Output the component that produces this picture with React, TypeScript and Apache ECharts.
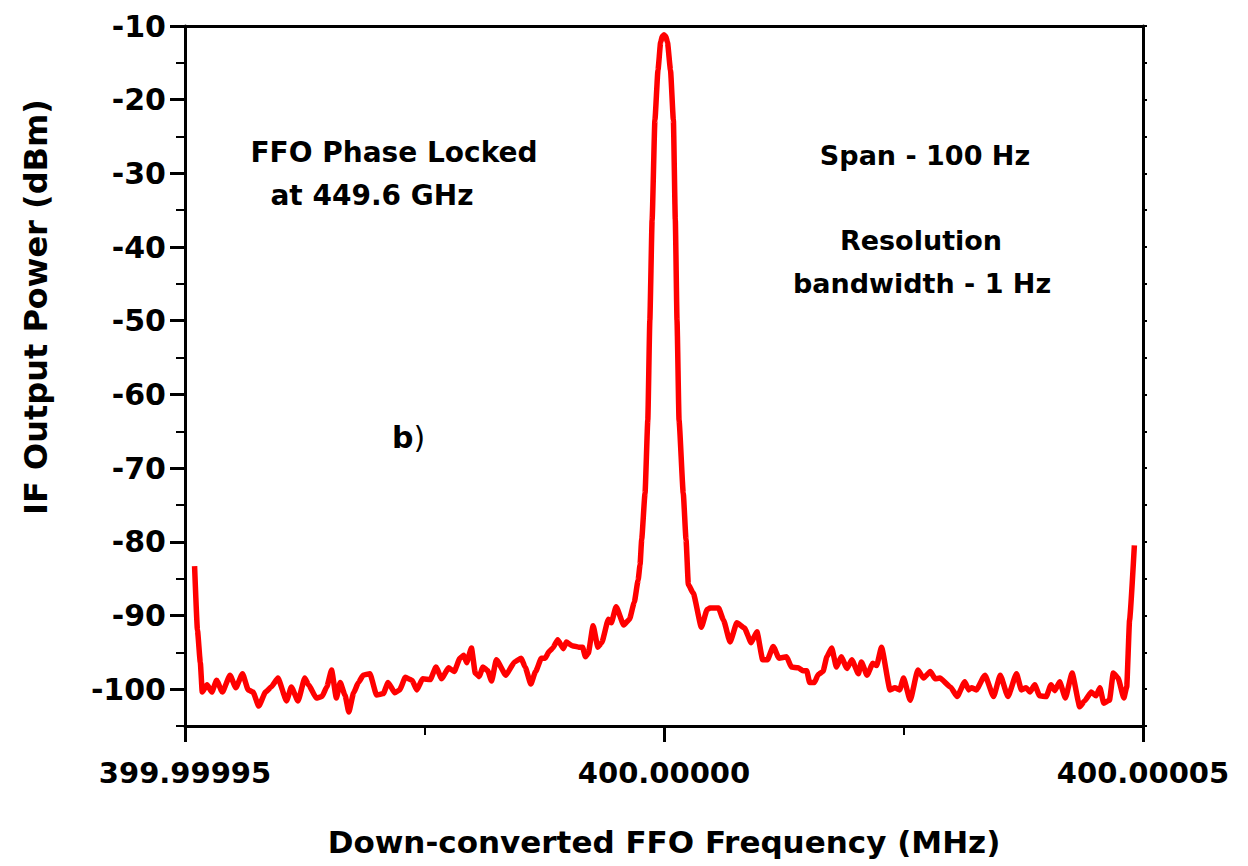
import React, { useEffect, useRef } from "react";
import * as echarts from "echarts";

// Frequency offset from 400.00000 MHz, in Hz
const freqOffsetHz: number[] = [
  -49.0, -48.7, -48.4, -48.2, -47.7, -47.2, -46.7, -46.1, -45.3, -44.7, -44.0, -43.4, -42.9, -42.3,
  -41.6, -41.0, -40.3, -39.4, -38.9, -38.2, -37.5, -37.1, -36.3, -35.7, -35.2, -34.7, -34.2, -33.8,
  -33.3, -32.9, -32.4, -31.9, -31.4, -30.7, -30.0, -29.3, -28.8, -28.1, -27.6, -27.0, -26.3, -25.8,
  -25.2, -24.4, -23.8, -23.2, -22.5, -21.9, -21.3, -20.9, -20.6, -20.1, -19.7, -19.3, -18.9, -18.4,
  -18.0, -17.5, -16.5, -15.6, -14.9, -14.5, -13.9, -13.4, -12.8, -12.4, -12.0, -11.6, -11.1, -10.5,
  -10.2, -9.6, -8.9, -8.5, -8.2, -7.9, -7.4, -6.9, -6.5, -5.8, -5.5, -5.0, -4.2, -3.6, -3.1, -2.7,
  -2.5, -2.33, -1.98, -1.69, -1.48, -1.24, -0.95, -0.63, -0.35, -0.18, 0.0, 0.18, 0.36, 0.68, 0.98, 1.18,
  1.36, 1.57, 2.01, 2.3, 2.54, 3.06, 3.9, 4.5, 4.8, 5.7, 6.2, 6.9, 7.6, 8.4, 9.1, 9.7, 10.3, 10.8, 11.4,
  12.0, 12.8, 13.3, 14.0, 14.5, 14.9, 15.2, 15.7, 16.1, 16.6, 17.0, 17.5, 18.0, 18.5, 19.1, 19.6,
  20.3, 20.6, 21.2, 21.8, 22.2, 22.7, 23.6, 24.1, 24.6, 25.0, 25.7, 26.5, 27.1, 27.8, 28.3, 28.8,
  29.9, 30.6, 31.4, 31.8, 32.1, 32.6, 33.5, 34.4, 35.1, 35.9, 36.8, 37.3, 37.8, 38.2, 38.7, 39.2,
  39.9, 40.4, 40.8, 41.3, 41.9, 42.6, 43.4, 43.9, 44.6, 45.1, 45.5, 45.9, 46.5, 46.9, 47.4, 48.0,
  48.3, 48.6, 49.1,
];

// IF output power, dBm
const powerDbm: number[] = [
  -83.3, -92.0, -96.4, -100.4, -99.4, -100.4, -98.8, -100.4, -98.1, -99.8, -97.9, -100.1, -100.4, -102.3,
  -100.4, -99.7, -98.5, -101.6, -99.7, -101.6, -98.5, -99.4, -101.2, -101.0, -99.7, -97.4, -101.2, -99.1,
  -100.8, -103.1, -100.5, -99.1, -98.1, -97.9, -100.8, -100.6, -99.1, -100.5, -100.1, -98.4, -98.8, -100.1,
  -98.6, -98.7, -97.0, -98.6, -97.1, -97.6, -95.8, -95.4, -96.4, -94.4, -97.8, -98.3, -97.0, -97.5,
  -98.9, -96.0, -98.1, -96.3, -95.8, -97.0, -99.3, -97.6, -95.8, -95.8, -94.9, -94.4, -93.3, -94.5,
  -93.6, -94.1, -94.3, -94.3, -95.6, -95.1, -91.4, -94.3, -93.7, -90.5, -91.0, -88.8, -91.3, -90.5, -88.2, -85.2,
  -83.1, -79.7, -73.4, -63.5, -50.0, -36.3, -22.8, -16.0, -12.2, -11.4, -11.2, -11.4, -12.2, -16.0, -22.8, -36.3,
  -50.0, -63.5, -73.4, -79.7, -85.8, -87.0, -91.6, -89.2, -89.0, -89.0, -90.6, -93.6, -91.0, -91.7, -93.7, -92.2, -96.0, -96.0, -94.2,
  -95.8, -95.6, -97.0, -97.1, -97.5, -97.5, -99.1, -99.1, -98.0, -97.6, -95.6, -94.4, -97.0, -95.6, -97.2, -96.0,
  -97.9, -96.3, -98.1, -96.5, -96.8, -94.3, -100.1, -99.8, -100.1, -98.5, -101.5, -97.4, -98.5, -97.6, -98.6, -98.5,
  -99.7, -101.0, -99.0, -100.1, -99.8, -100.1, -98.1, -101.0, -98.1, -101.0, -97.9, -100.1, -99.8, -100.4, -99.4, -100.9,
  -101.0, -99.4, -100.2, -99.0, -101.2, -97.8, -102.4, -101.6, -100.4, -100.9, -99.8, -101.9, -101.5, -97.8, -98.5, -101.2,
  -99.7, -90.6, -80.5,
];

const xMajorTicks: number[] = [-50, 0, 50];
const xTickLabels: string[] = ["399.99995", "400.00000", "400.00005"];
const yMajorTicks: number[] = [-10, -20, -30, -40, -50, -60, -70, -80, -90, -100];
const yMinorTicks: number[] = [-15, -25, -35, -45, -55, -65, -75, -85, -95, -105];
const yAllTicks: number[] = [...yMajorTicks, ...yMinorTicks];

const xTitle = "Down-converted FFO Frequency (MHz)";
const yTitle = "IF Output Power (dBm)";

const FONT = "DejaVu Sans";

export default function App() {
  const ref = useRef<HTMLDivElement>(null);
  useEffect(() => {
    if (!ref.current) return;
    const chart = echarts.init(ref.current, undefined, { renderer: "svg" });
    const data = freqOffsetHz.map((f, i) => [f, powerDbm[i]]);
    const axisLineStyle = { color: "#000", width: 3 };
    const annot = (text: string, x: number, y: number, size: number) => ({
      type: "text",
      x,
      y,
      style: { text, font: `bold ${size}px "${FONT}"`, fill: "#000", align: "center", verticalAlign: "middle" },
    });
    chart.setOption({
      animation: false,
      backgroundColor: "#fff",
      grid: { left: 185, right: 105, top: 26, bottom: 140 },
      xAxis: [
        {
          type: "value",
          min: -50,
          max: 50,
          interval: 50,
          position: "bottom",
          name: xTitle,
          nameLocation: "middle",
          nameGap: 100,
          nameTextStyle: { fontFamily: FONT, fontWeight: "bold", fontSize: 31, color: "#000" },
          axisLine: { show: true, onZero: false, lineStyle: axisLineStyle },
          axisTick: { show: true, length: 16, lineStyle: { color: "#000", width: 3 } },
          minorTick: { show: true, splitNumber: 2, length: 9, lineStyle: { color: "#000", width: 2 } },
          splitLine: { show: false },
          axisLabel: {
            margin: 32,
            fontFamily: FONT,
            fontWeight: "bold",
            fontSize: 29,
            color: "#000",
            formatter: (v: number) => {
              const i = xMajorTicks.indexOf(v);
              return i >= 0 ? xTickLabels[i] : "";
            },
          },
        },
        {
          type: "value",
          min: -50,
          max: 50,
          position: "top",
          axisLine: { show: true, onZero: false, lineStyle: axisLineStyle },
          axisTick: { show: false },
          axisLabel: { show: false },
          splitLine: { show: false },
        },
      ],
      yAxis: [
        {
          type: "value",
          min: -105,
          max: -10,
          position: "left",
          axisLine: { show: true, onZero: false, lineStyle: axisLineStyle },
          axisTick: { show: true, length: 15, customValues: yMajorTicks, lineStyle: { color: "#000", width: 3 } },
          axisLabel: {
            customValues: yMajorTicks,
            margin: 19,
            fontFamily: FONT,
            fontWeight: "bold",
            fontSize: 30,
            color: "#000",
          },
          splitLine: { show: false },
        },
        {
          type: "value",
          min: -105,
          max: -10,
          position: "left",
          axisLine: { show: false, onZero: false },
          axisTick: { show: true, length: 9, customValues: yMinorTicks, lineStyle: { color: "#000", width: 2 } },
          axisLabel: { show: false },
          splitLine: { show: false },
        },
        {
          type: "value",
          min: -105,
          max: -10,
          position: "right",
          axisLine: { show: true, onZero: false, lineStyle: axisLineStyle },
          axisTick: { show: true, length: 4, customValues: yAllTicks, lineStyle: { color: "#000", width: 2 } },
          axisLabel: { show: false },
          splitLine: { show: false },
        },
      ],
      series: [
        {
          type: "line",
          data,
          xAxisIndex: 0,
          yAxisIndex: 0,
          showSymbol: false,
          symbol: "none",
          smooth: 0.15,
          smoothMonotone: "x",
          lineStyle: { color: "#ff0000", width: 5.5, join: "round" },
        },
      ],
      graphic: [
        {
          type: "text",
          x: 36,
          y: 307,
          rotation: Math.PI / 2,
          style: { text: yTitle, font: `bold 32px "${FONT}"`, fill: "#000", align: "center", verticalAlign: "middle" },
        },
        annot("FFO Phase Locked", 394, 152, 28),
        annot("at 449.6 GHz", 372, 195, 28),
        annot("Span - 100 Hz", 925, 155, 27),
        annot("Resolution", 921, 240, 27),
        annot("bandwidth - 1 Hz", 922, 283, 27),
        {
          type: "text",
          x: 392,
          y: 437,
          style: {
            text: "{b|b}{p|)}",
            verticalAlign: "middle",
            rich: {
              b: { fontFamily: FONT, fontWeight: "bold", fontSize: 30, fill: "#000" },
              p: { fontFamily: FONT, fontWeight: "normal", fontSize: 30, fill: "#000" },
            },
          },
        },
      ],
    });
    return () => chart.dispose();
  }, []);
  return (
    <div
      ref={ref}
      style={{ position: "fixed", left: 0, top: 0, width: 1248, height: 866, background: "#fff" }}
    />
  );
}
